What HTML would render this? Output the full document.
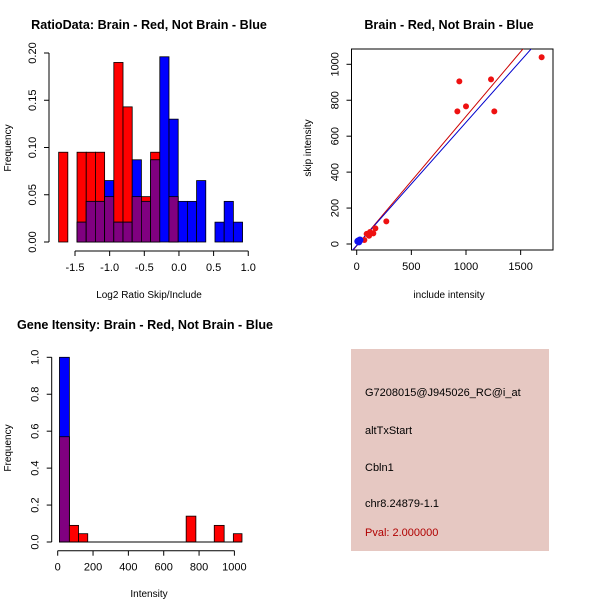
<!DOCTYPE html>
<html><head><meta charset="utf-8"><style>
body{margin:0;background:#fff}
svg{display:block;font-family:"Liberation Sans",sans-serif}
</style></head><body>
<svg id="c" width="600" height="600" xmlns="http://www.w3.org/2000/svg">
<rect x="0" y="0" width="600" height="600" fill="#fff"/>
<g id="p1"></g>
<g id="p2"></g>
<g id="p3"></g>
<g>
<rect x="351" y="349" width="198" height="202" fill="#e6c8c2"/>
<g font-size="11" fill="#000">
<text x="365" y="396">G7208015@J945026_RC@i_at</text>
<text x="365" y="434">altTxStart</text>
<text x="365" y="471">Cbln1</text>
<text x="365" y="507">chr8.24879-1.1</text>
<text x="365" y="536" fill="#b00000">Pval: 2.000000</text>
</g></g>
</svg>
<script>
// Panel 1 data
const ratioBinStart = -1.736, ratioBinWidth = 0.1327;
const ratioRed  = [0.095,0,0.095,0.095,0.095,0.048,0.19,0.143,0.048,0.048,0.095,0,0.048,0,0,0,0,0,0,0];
const ratioBlue = [0,0,0.021,0.043,0.043,0.065,0.021,0.021,0.087,0.043,0.087,0.196,0.13,0.043,0.043,0.065,0,0.021,0.043,0.021];
const ratioXTicks = [-1.5,-1.0,-0.5,0.0,0.5,1.0];
const ratioXLabels = ["-1.5","-1.0","-0.5","0.0","0.5","1.0"];
const ratioYTicks = [0,0.05,0.10,0.15,0.20];
const ratioYLabels = ["0.00","0.05","0.10","0.15","0.20"];
// Panel 2 data
const incl = [1692,939,1229,921,1000,1259,271,171,152,113,122,70,91];
const skip = [1039,905,916,738,766,738,126,87,59,46,67,22,56];
const blueIncl = [15,25,20,30,10];
const blueSkip = [17,20,12,22,15];
const redFit = [-10,0.72];
const blueFit = [-8,0.685];
const scXTicks = [0,500,1000,1500];
const scYTicks = [0,200,400,600,800,1000];
// Panel 3 data
const intStart = [10,66,118,727,886,994];
const intEnd   = [66,118,170,782,942,1043];
const intRed   = [0.57,0.09,0.045,0.14,0.09,0.045];
const intBlue  = [1.0,0,0,0,0,0];
const intXTicks = [0,200,400,600,800,1000];
const intYTicks = [0,0.2,0.4,0.6,0.8,1.0];
const intYLabels = ["0.0","0.2","0.4","0.6","0.8","1.0"];

const NS="http://www.w3.org/2000/svg";
function mk(parent,tag,attrs,text){const e=document.createElementNS(NS,tag);for(const k in attrs)e.setAttribute(k,attrs[k]);if(text!==undefined)e.textContent=text;parent.appendChild(e);return e;}

function drawAxes(g,xs,ys,xt,xl,yt,yl,xLineY,yLineX){
  const ax=mk(g,'g',{});
  
  
  mk(ax,'line',{x1:xs(xt[0]),x2:xs(xt[xt.length-1]),y1:xLineY,y2:xLineY,stroke:'#000'});
  xt.forEach((v,i)=>{mk(ax,'line',{x1:xs(v),x2:xs(v),y1:xLineY,y2:xLineY+5,stroke:'#000'});
    const t=mk(ax,'text',{x:xs(v),y:xLineY+20,'font-size':11,'text-anchor':'middle'},xl[i]);
    
    });
  const ay=mk(g,'g',{});
  
  
  mk(ay,'line',{x1:yLineX,x2:yLineX,y1:ys(yt[0]),y2:ys(yt[yt.length-1]),stroke:'#000'});
  yt.forEach((v,i)=>{mk(ay,'line',{x1:yLineX-5,x2:yLineX,y1:ys(v),y2:ys(v),stroke:'#000'});
    const lx=yLineX-13;
    const t=mk(ay,'text',{x:lx,y:ys(v),'font-size':11,'text-anchor':'middle',transform:`rotate(-90 ${lx} ${ys(v)})`},yl[i]);
    
    });
}
function label(g,x,y,txt,name,rot,size,bold){
  const a={x:x,y:y,'font-size':size||10,'text-anchor':'middle'};
  if(rot)a.transform=`rotate(-90 ${x} ${y})`;
  if(bold)a['font-weight']='bold';
  const t=mk(g,'text',a,txt);
  
  
}
function bar(g,x0,x1,y0,y1,fill,name){
  const r=mk(g,'rect',{x:Math.min(x0,x1),y:Math.min(y0,y1),width:Math.abs(x1-x0),height:Math.abs(y1-y0),fill:fill,stroke:'#000','stroke-width':0.8});
  
  
}

// Panel 1
(function(){
  const g=document.getElementById('p1');
  const xs=v=>75+(v+1.5)*69.3, ys=v=>242-v*945;
  ratioRed.forEach((r,i)=>{
    const a=ratioBinStart+i*ratioBinWidth,b=a+ratioBinWidth,bl=ratioBlue[i];
    if(r>0)bar(g,xs(a),xs(b),ys(0),ys(r),'#ff0000','ratio-bar-red');
    if(bl>0)bar(g,xs(a),xs(b),ys(0),ys(bl),'#0000ff','ratio-bar-blue');
    const m=Math.min(r,bl);
    if(m>0)bar(g,xs(a),xs(b),ys(0),ys(m),'#800080','ratio-bar-overlap');
  });
  drawAxes(g,xs,ys,ratioXTicks,ratioXLabels,ratioYTicks,ratioYLabels,251,49);
  label(g,149,29,'RatioData: Brain - Red, Not Brain - Blue','plot-title',false,12.6,true);
  label(g,149,298,'Log2 Ratio Skip/Include','x-axis-title');
  label(g,11,148,'Frequency','y-axis-title',true);
})();

// Panel 2
(function(){
  const g=document.getElementById('p2');
  const xs=v=>356.7+v*0.1093, ys=v=>244-v*0.1797;
  mk(g,'rect',{x:351.5,y:49,width:201.5,height:201,fill:'none',stroke:'#000'});
  mk(g,'clipPath',{id:'cp2'}).appendChild(document.createElementNS(NS,'rect'));
  const cr=g.querySelector('#cp2 rect');cr.setAttribute('x',351.5);cr.setAttribute('y',49);cr.setAttribute('width',201.5);cr.setAttribute('height',201);
  const lg=mk(g,'g',{'clip-path':'url(#cp2)'});
  [[redFit,'#cc0000','red-fit-line'],[blueFit,'#0000cc','blue-fit-line']].forEach(([f,c,n])=>{
    const l=mk(lg,'line',{x1:xs(-100),y1:ys(f[0]+f[1]*-100),x2:xs(2000),y2:ys(f[0]+f[1]*2000),stroke:c,'stroke-width':1});
    
    
  });
  incl.forEach((v,i)=>{const p=mk(g,'circle',{cx:xs(v),cy:ys(skip[i]),r:3,fill:'#ee1111'});
    
    });
  blueIncl.forEach((v,i)=>{const p=mk(g,'circle',{cx:xs(v),cy:ys(blueSkip[i]),r:3.5,fill:'#1111ee'});
    
    });
  drawAxes(g,xs,ys,scXTicks,scXTicks.map(String),scYTicks,scYTicks.map(String),250,351.5);
  label(g,449,29,'Brain - Red, Not Brain - Blue','plot-title',false,12.6,true);
  label(g,449,298,'include intensity','x-axis-title');
  label(g,311,148,'skip intensity','y-axis-title',true);
})();

// Panel 3
(function(){
  const g=document.getElementById('p3');
  const xs=v=>57.7+v*0.1767, ys=v=>542-v*184.7;
  intStart.forEach((a,i)=>{
    const b=intEnd[i],r=intRed[i],bl=intBlue[i];
    if(r>0)bar(g,xs(a),xs(b),ys(0),ys(r),'#ff0000','intensity-bar-red');
    if(bl>0)bar(g,xs(a),xs(b),ys(0),ys(bl),'#0000ff','intensity-bar-blue');
    const m=Math.min(r,bl);
    if(m>0)bar(g,xs(a),xs(b),ys(0),ys(m),'#800080','intensity-bar-overlap');
  });
  const base=mk(g,'line',{x1:xs(intStart[0]),x2:xs(intEnd[intEnd.length-1]),y1:ys(0),y2:ys(0),stroke:'#000'});
  
  
  drawAxes(g,xs,ys,intXTicks,intXTicks.map(String),intYTicks,intYLabels,550.7,51.7);
  label(g,145,329,'Gene Itensity: Brain - Red, Not Brain - Blue','plot-title',false,12.6,true);
  label(g,149,597,'Intensity','x-axis-title');
  label(g,11,448,'Frequency','y-axis-title',true);
})();
</script>
</body></html>
